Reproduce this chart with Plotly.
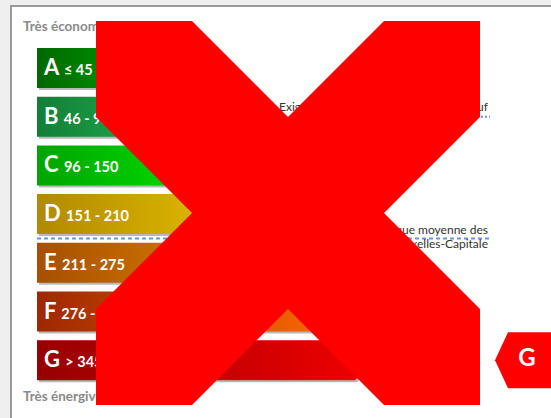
import plotly.graph_objects as go

# ---- data ----
classes = ["A", "B", "C", "D", "E", "F", "G"]
ranges = ["≤ 45", "46 - 95", "96 - 150", "151 - 210", "211 - 275", "276 - 345", "> 345"]
bar_tips = [195, 225, 255, 285, 315, 345, 375]          # arrow tip of each class bar
grad_left = ["#006800", "#137e38", "#00a400", "#b08a00", "#a65000", "#9e2800", "#960000"]
grad_right = ["#00b400", "#27c452", "#00f200", "#f2ca00", "#f29200", "#ff6c00", "#f20000"]
top_label = "Très économe"
bottom_label = "Très énergivore"
req_label = "Exigences PEB pour tout logement neuf"
avg_label = ["Performance énergétique moyenne des", "logements en Région de Bruxelles-Capitale"]
req_class = "B"          # reference line at the middle of class B
avg_between = ("D", "E")  # average line between D and E
property_class = "G"

W, H = 551, 418
x0 = 37
top0, pitch, bh = 48, 48.7, 40

fig = go.Figure()
FONT = "Lato, 'Open Sans', sans-serif"

def row_top(i):
    return top0 + i * pitch

# reference lines (drawn under bars)
ri = classes.index(req_class)
y_req = row_top(ri) + bh / 2
fig.add_trace(go.Scatter(x=[x0, 490], y=[y_req, y_req], mode="lines",
                         line=dict(color="#6f93d6", width=2, dash="2px,2px"),
                         hoverinfo="skip", showlegend=False))
ai = classes.index(avg_between[0])
y_avg = (row_top(ai) + bh + row_top(ai + 1)) / 2
fig.add_trace(go.Scatter(x=[x0, 490], y=[y_avg, y_avg], mode="lines",
                         line=dict(color="#6f93d6", width=2, dash="4px,3px"),
                         hoverinfo="skip", showlegend=False))

# bars
for i, c in enumerate(classes):
    t = row_top(i)
    b = t + bh
    m = t + bh / 2
    tip = bar_tips[i]
    body = tip - bh / 2
    xs = [x0, body, tip, body, x0, x0]
    ys = [t, t, m, b, b, t]
    # shadow
    fig.add_trace(go.Scatter(x=[v + 2 for v in xs], y=[v + 2 for v in ys], mode="lines",
                             fill="toself", fillcolor="rgba(0,0,0,0.28)",
                             line=dict(width=0), hoverinfo="skip", showlegend=False))
    fig.add_trace(go.Scatter(x=xs, y=ys, mode="lines", fill="toself",
                             fillgradient=dict(type="horizontal",
                                               colorscale=[[0, grad_left[i]], [1, grad_right[i]]]),
                             line=dict(width=0), hoverinfo="skip", showlegend=False))
    fig.add_trace(go.Scatter(x=[44], y=[m + 1.5], mode="text",
                             text=[f"<b>{c} <span style='font-size:14.5px'>{ranges[i]}</span></b>"],
                             textposition="middle right",
                             textfont=dict(family=FONT, size=22, color="white"),
                             hoverinfo="skip", showlegend=False))

# side labels
fig.add_trace(go.Scatter(x=[23, 23], y=[28, 398], mode="text",
                         text=[f"<b>{top_label}</b>", f"<b>{bottom_label}</b>"],
                         textposition="middle right",
                         textfont=dict(family=FONT, size=13.5, color="#8a8a8a"),
                         hoverinfo="skip", showlegend=False))
fig.add_trace(go.Scatter(x=[488, 488, 488], y=[y_req - 9, y_avg - 7, y_avg + 7], mode="text",
                         text=[req_label, avg_label[0], avg_label[1]],
                         textposition="middle left",
                         textfont=dict(family=FONT, size=12, color="#333333"),
                         hoverinfo="skip", showlegend=False))

# property marker
pi = classes.index(property_class)
pm = row_top(pi) + bh / 2
fig.add_trace(go.Scatter(x=[495, 508, 560, 560, 508, 495], y=[pm, pm - 28, pm - 28, pm + 28, pm + 28, pm],
                         mode="lines", fill="toself", fillcolor="#ff0000", line=dict(width=0),
                         hoverinfo="skip", showlegend=False))
fig.add_trace(go.Scatter(x=[527], y=[pm], mode="text", text=[f"<b>{property_class}</b>"],
                         textposition="middle center",
                         textfont=dict(family=FONT, size=24, color="white"),
                         hoverinfo="skip", showlegend=False))

# white panel
shapes = [dict(type="rect", xref="x", yref="y", x0=11, y0=6, x1=W + 20, y1=H + 20,
               fillcolor="white", line=dict(color="#9a9a9a", width=2), layer="below")]

# big red cross overlay
L, T, S = 96, 21, 384
q = S / 4
pts = [(0, 0), (1, 0), (2, 1), (3, 0), (4, 0), (4, 1), (3, 2), (4, 3), (4, 4), (3, 4),
       (2, 3), (1, 4), (0, 4), (0, 3), (1, 2), (0, 1)]
path = "M " + " L ".join(f"{L + a * q},{T + b * q}" for a, b in pts) + " Z"
shapes.append(dict(type="path", xref="x", yref="y", path=path, fillcolor="#ff0000",
                   line=dict(width=0), layer="above"))

fig.update_layout(
    width=W, height=H, margin=dict(l=0, r=0, t=0, b=0),
    paper_bgcolor="#efefef", plot_bgcolor="#efefef",
    xaxis=dict(range=[0, W], visible=False, fixedrange=True),
    yaxis=dict(range=[H, 0], visible=False, fixedrange=True),
    shapes=shapes, showlegend=False,
)
fig.write_html("out.html", config={"displayModeBar": False},
               post_script="document.body.style.margin='0px';document.body.style.background='#efefef';")
